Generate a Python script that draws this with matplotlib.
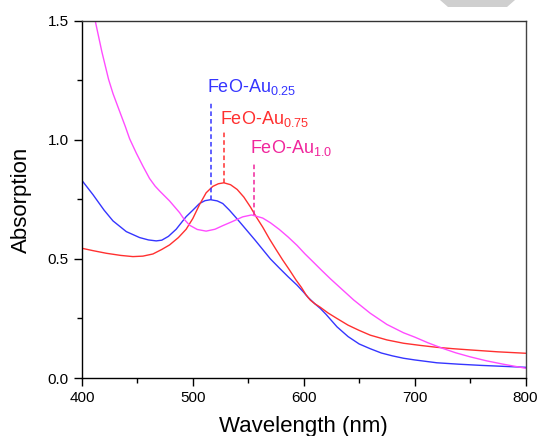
import numpy as np
import matplotlib.pyplot as plt
from matplotlib.ticker import MultipleLocator
from matplotlib.patches import Polygon

plt.rcParams['font.family'] = ['Liberation Sans', 'DejaVu Sans']
plt.rcParams['mathtext.fontset'] = 'custom'
plt.rcParams['mathtext.rm'] = 'Liberation Sans'
plt.rcParams['mathtext.default'] = 'regular'

# espectros UV-vis de las tres muestras
wl_025 = [400, 410, 420, 428, 440, 452, 460, 467, 472, 478, 485, 494, 500, 506,
          511, 516, 522, 527, 533, 540, 548, 556, 563, 570, 578, 586, 594, 600,
          604, 610, 615, 620, 630, 640, 650, 660, 670, 680, 690, 700, 720, 740,
          760, 780, 800]
abs_025 = [0.83, 0.77, 0.705, 0.66, 0.615, 0.59, 0.58, 0.576, 0.579, 0.595,
           0.625, 0.678, 0.705, 0.733, 0.745, 0.749, 0.744, 0.733, 0.705, 0.668,
           0.624, 0.58, 0.54, 0.50, 0.462, 0.425, 0.39, 0.36, 0.338, 0.312,
           0.292, 0.268, 0.215, 0.174, 0.143, 0.123, 0.105, 0.093, 0.083, 0.076,
           0.064, 0.058, 0.053, 0.049, 0.045]

wl_075 = [400, 410, 422, 435, 446, 455, 464, 472, 479, 487, 494, 500, 506, 512,
          518, 523, 528, 534, 540, 546, 552, 557, 563, 569, 575, 581, 587, 593,
          598, 602, 606, 610, 615, 622, 630, 640, 650, 660, 675, 690, 705, 720,
          735, 750, 775, 800]
abs_075 = [0.545, 0.535, 0.524, 0.515, 0.51, 0.512, 0.521, 0.54, 0.559, 0.59,
           0.625, 0.67, 0.728, 0.778, 0.805, 0.816, 0.82, 0.812, 0.792, 0.76,
           0.718, 0.678, 0.634, 0.585, 0.54, 0.496, 0.455, 0.412, 0.38, 0.35,
           0.327, 0.312, 0.297, 0.273, 0.25, 0.222, 0.20, 0.18, 0.16, 0.146,
           0.137, 0.129, 0.123, 0.118, 0.11, 0.104]

wl_10 = [400, 405, 412, 418, 424, 428, 434, 439, 443, 449, 455, 461, 466, 470,
         479, 488, 492, 497, 504, 512, 520, 527, 535, 545, 553, 563, 570, 578,
         586, 594, 601, 608, 616, 624, 632, 645, 660, 675, 690, 700, 712, 725,
         737, 750, 765, 780, 800]
abs_10 = [1.78, 1.64, 1.5, 1.37, 1.255, 1.195, 1.12, 1.058, 1.005, 0.945,
          0.89, 0.838, 0.806, 0.786, 0.744, 0.695, 0.668, 0.642, 0.624, 0.617,
          0.625, 0.64, 0.656, 0.677, 0.685, 0.672, 0.652, 0.624, 0.592, 0.557,
          0.522, 0.49, 0.453, 0.417, 0.383, 0.328, 0.272, 0.225, 0.19, 0.172,
          0.148, 0.125, 0.106, 0.089, 0.072, 0.058, 0.041]

# posicion del maximo de cada banda y altura de la linea guia
peak_wl = [516, 528, 555]
peak_abs = [0.749, 0.82, 0.684]
guide_top = [1.161, 1.042, 0.903]
label_y = [1.203, 1.067, 0.944]
names = [r'FeO-Au$_{0.25}$', r'FeO-Au$_{0.75}$', r'FeO-Au$_{1.0}$']
line_colors = ['#3535ff', '#ff3030', '#ff4cff']
text_colors = ['#3535ff', '#ff3030', '#f0269c']

fig = plt.figure(figsize=(5.39, 4.36), dpi=100)
ax = fig.add_axes([0.152, 0.133, 0.823, 0.819])

ax.plot(wl_025, abs_025, color=line_colors[0], lw=1.0)
ax.plot(wl_075, abs_075, color=line_colors[1], lw=1.0)
ax.plot(wl_10, abs_10, color=line_colors[2], lw=1.0)

for i in range(3):
    ax.plot([peak_wl[i], peak_wl[i]], [peak_abs[i], guide_top[i]],
            color=text_colors[i], lw=1.1, ls=(0, (3, 2)))
    ax.text(peak_wl[i] - 3.5, label_y[i], names[i], color=text_colors[i],
            fontsize=13, ha='left', va='baseline')

ax.set_xlim(400, 800)
ax.set_ylim(0, 1.5)
ax.xaxis.set_major_locator(MultipleLocator(100))
ax.xaxis.set_minor_locator(MultipleLocator(50))
ax.yaxis.set_major_locator(MultipleLocator(0.5))
ax.yaxis.set_minor_locator(MultipleLocator(0.25))
ax.yaxis.set_major_formatter(plt.FormatStrFormatter('%.1f'))
ax.tick_params(which='both', direction='out', top=False, right=False,
               labelsize=11, width=1.0)
ax.tick_params(which='major', length=6)
ax.tick_params(which='minor', length=3.5)
for s in ax.spines.values():
    s.set_linewidth(1.0)
ax.spines['top'].set_color('#333333')
ax.spines['right'].set_color('#444444')

ax.set_xlabel('Wavelength (nm)', fontsize=16, labelpad=8)
ax.set_ylabel('Absorption', fontsize=16, labelpad=11)

# marca gris de la pagina
fig.patches.append(Polygon([[440 / 539, 1.0], [515 / 539, 1.0],
                            [507 / 539, 1 - 7 / 436], [448 / 539, 1 - 7 / 436]],
                           closed=True, transform=fig.transFigure,
                           facecolor='#cfcfcf', edgecolor='none'))

fig.savefig('out.png', dpi=100)
